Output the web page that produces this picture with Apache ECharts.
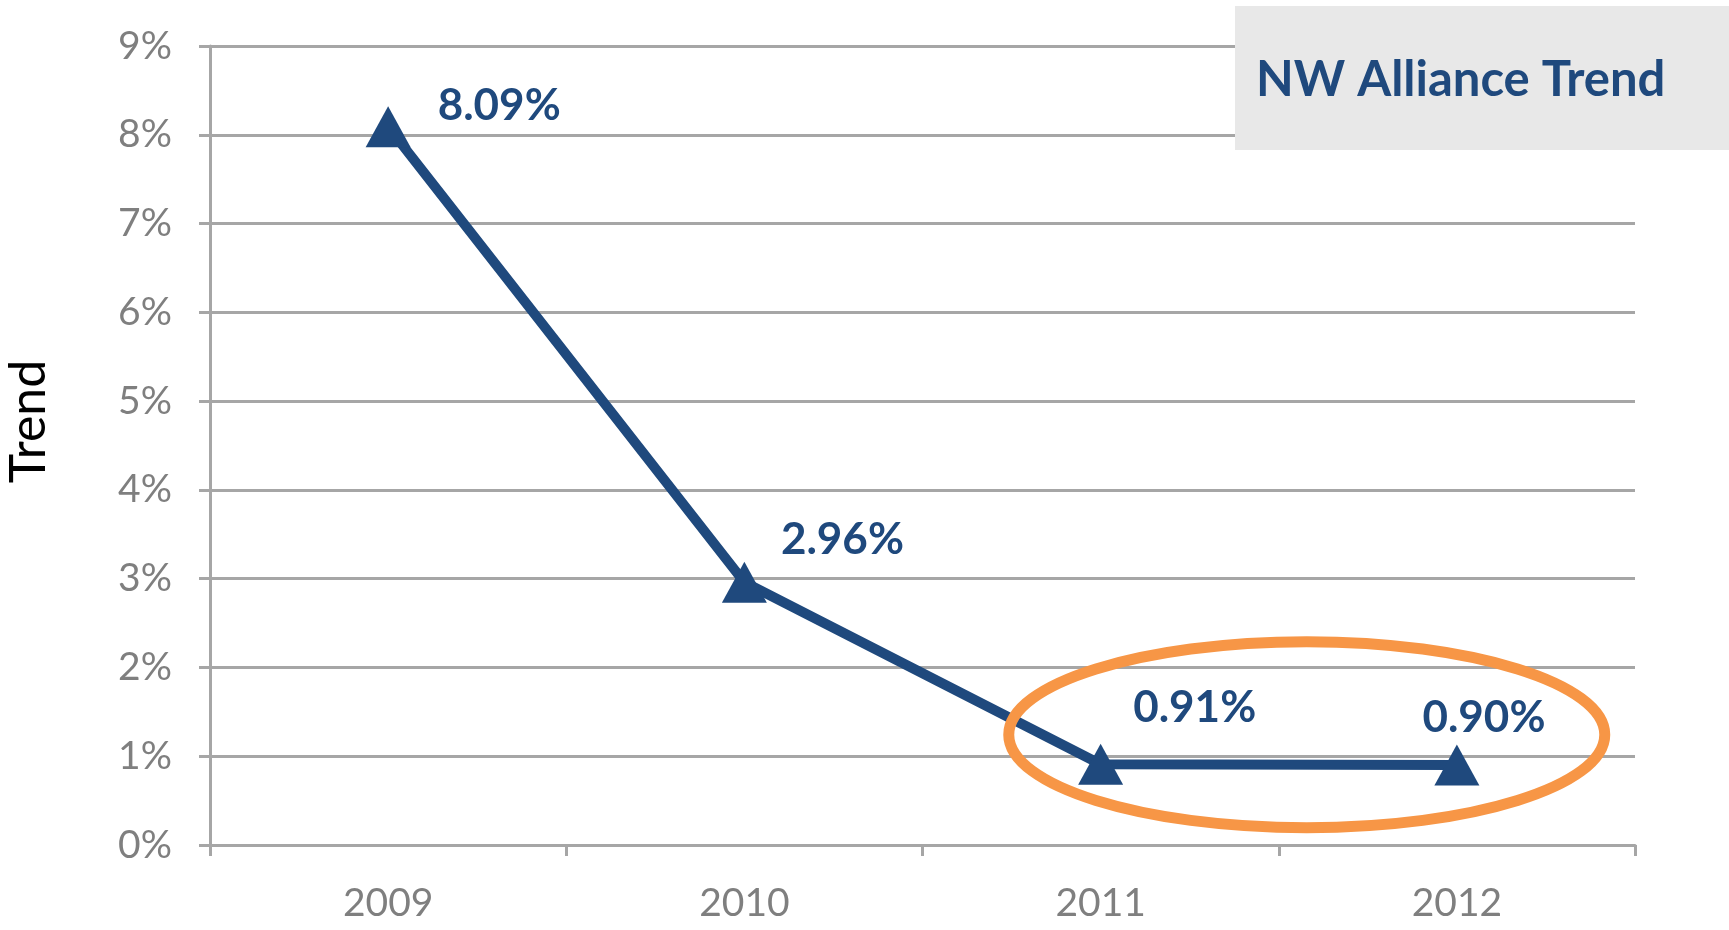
<!DOCTYPE html>
<html lang="en">
<head>
    <meta charset="UTF-8">
    <title>NW Alliance Trend</title>
    <script src="https://cdn.jsdelivr.net/npm/echarts@6/dist/echarts.min.js"></script>
    <style>
        html, body { margin: 0; padding: 0; background: #fff; }
        #chart { width: 1729px; height: 930px; }
    </style>
</head>
<body>
<div id="chart"></div>

<script>
    // data
    var years = ['2009', '2010', '2011', '2012'];
    var trend = [8.09, 2.96, 0.91, 0.90];

    // label offsets (label placement only)
    var labelOffsets = [[22, -21], [9, -42], [5, -56], [-62, -47]];

    var blue = '#1f497d';
    var gray = '#a6a6a6';

    var chart = echarts.init(document.getElementById('chart'));

    var seriesData = trend.map(function (v, i) {
        return {
            value: v,
            label: { offset: labelOffsets[i] }
        };
    });

    var option = {
        backgroundColor: '#ffffff',
        grid: {
            left: 210,
            right: 94,
            top: 46,
            bottom: 85,
            outerBoundsMode: 'none'
        },
        xAxis: {
            type: 'category',
            data: years,
            boundaryGap: true,
            axisLine: { lineStyle: { color: gray, width: 3 } },
            axisTick: { show: true, length: 11, lineStyle: { color: gray, width: 3 } },
            axisLabel: {
                margin: 39,
                color: '#7f7f7f',
                fontSize: 39,
                fontFamily: 'Lato'
            },
            splitLine: { show: false }
        },
        yAxis: {
            type: 'value',
            min: 0,
            max: 9,
            interval: 1,
            name: 'Trend',
            nameLocation: 'middle',
            nameRotate: 90,
            nameGap: 156,
            nameTextStyle: {
                color: '#000',
                fontSize: 50,
                fontFamily: 'Lato',
                padding: [0, 0, 0, 48]
            },
            axisLine: { show: true, lineStyle: { color: gray, width: 3 } },
            axisTick: { show: true, length: 11, lineStyle: { color: gray, width: 3 } },
            axisLabel: {
                margin: 38,
                color: '#7f7f7f',
                fontSize: 39,
                fontFamily: 'Lato',
                formatter: '{value}%'
            },
            splitLine: { show: true, lineStyle: { color: gray, width: 3 } }
        },
        series: [
            {
                type: 'line',
                data: seriesData,
                symbol: 'triangle',
                symbolSize: [45, 41],
                lineStyle: { color: blue, width: 10 },
                itemStyle: { color: blue },
                label: {
                    show: true,
                    position: 'right',
                    color: blue,
                    fontSize: 44,
                    fontWeight: 'bold',
                    fontFamily: 'Lato',
                    formatter: function (p) { return p.value.toFixed(2) + '%'; }
                },
                z: 3
            }
        ]
    };

    chart.setOption(option);

    // title box and highlight ellipse around last two points
    var p2011 = chart.convertToPixel({ gridIndex: 0 }, [2, trend[2]]);
    var p2012 = chart.convertToPixel({ gridIndex: 0 }, [3, trend[3]]);
    var cx = (p2011[0] + p2012[0]) / 2 + 28;
    var cy = (p2011[1] + p2012[1]) / 2 - 30;

    chart.setOption({
        graphic: [
            {
                type: 'rect',
                left: 1235,
                top: 6,
                shape: { width: 494, height: 144 },
                style: { fill: '#e8e8e8' },
                z: 10
            },
            {
                type: 'text',
                left: 1256,
                top: 56,
                style: {
                    text: 'NW Alliance Trend',
                    fill: blue,
                    font: 'bold 49px Lato'
                },
                z: 11
            },
            {
                type: 'ellipse',
                shape: { cx: cx, cy: cy, rx: 298, ry: 93 },
                style: { fill: 'none', stroke: '#f79646', lineWidth: 11 },
                z: 5
            }
        ]
    });
</script>

</body>
</html>
